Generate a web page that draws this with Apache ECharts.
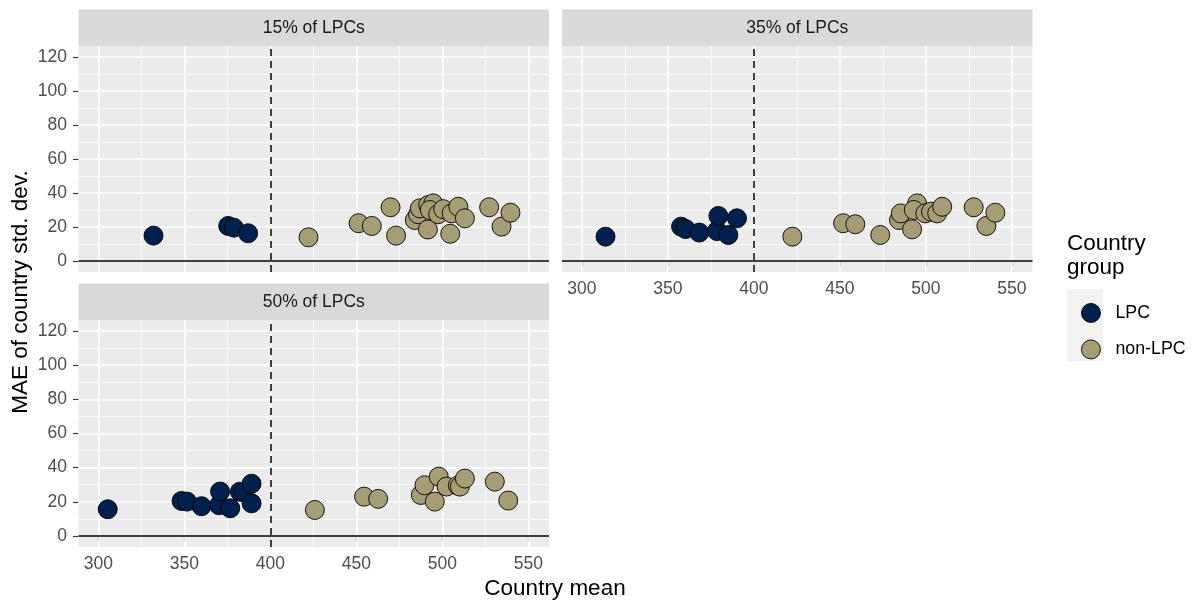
<!DOCTYPE html>
<html>
<head>
<meta charset="utf-8">
<script src="https://cdn.jsdelivr.net/npm/echarts@6/dist/echarts.min.js"></script>
<style>
html,body{margin:0;padding:0;background:#fff;}
#chart{width:1201px;height:606px;}
</style>
</head>
<body>
<div id="chart"></div>
<script>
// ---- data ----
const panelTitles = ['15% of LPCs', '35% of LPCs', '50% of LPCs'];
const groupNames = ['LPC', 'non-LPC'];
const xTicks = [300, 350, 400, 450, 500, 550];
const xMinor = [325, 375, 425, 475, 525];
const yTicks = [0, 20, 40, 60, 80, 100, 120];
const yMinor = [10, 30, 50, 70, 90, 110];
const thresholdX = 400;

const lpc15 = [[332.1,14.9],[375.5,20.6],[378.8,19.6],[387.1,16.3]];
const non15 = [[422.2,13.9],[451.3,22.2],[459.0,20.6],[469.9,31.6],[473.1,14.9],[484.0,24.1],[485.9,27.5],[486.9,31.0],[491.8,32.9],[494.7,33.9],[492.7,30.0],[491.6,18.5],[497.6,27.5],[500.5,30.5],[505.4,28.0],[509.3,31.9],[513.1,25.1],[504.6,16.0],[527.2,31.6],[534.4,20.2],[539.6,28.4]];
const lpc35 = [[313.8,14.3],[357.7,20.2],[360.3,18.8],[368.3,16.7],[378.6,17.6],[379.4,26.5],[385.2,15.3],[390.2,25.1]];
const non35 = [[422.4,14.3],[451.9,22.2],[459.0,21.6],[473.5,15.3],[484.4,24.1],[485.4,28.0],[494.9,33.9],[493.0,30.0],[492.0,18.6],[499.7,28.0],[503.0,29.0],[506.6,28.0],[509.5,31.9],[527.8,31.6],[535.2,20.6],[540.4,28.4]];
const lpc50 = [[305.5,15.6],[348.4,20.5],[351.6,20.1],[360.0,17.4],[370.2,18.0],[370.8,26.0],[376.7,16.2],[382.3,25.9],[384.7,25.5],[389.1,19.1],[389.1,30.6]];
const non50 = [[425.9,15.2],[454.5,23.0],[462.7,21.7],[487.5,24.0],[489.6,29.7],[495.6,20.1],[497.9,34.7],[502.4,28.9],[509.0,29.5],[510.2,28.9],[513.1,33.6],[530.5,31.8],[538.3,20.7]];

const panelData = [[lpc15, non15], [lpc35, non35], [lpc50, non50]];

// ---- layout / style ----
const FONT = '"Liberation Sans", Arial, sans-serif';
const colors = ['#00204D', '#A69D75'];
const grids = [
  {left: 78.5, top: 46, width: 470.5, height: 226},
  {left: 562, top: 46, width: 470.5, height: 226},
  {left: 78.5, top: 320, width: 470.5, height: 227}
];
const showX = [false, true, true];
const showY = [true, false, true];

const option = {
  animation: false,
  backgroundColor: '#fff',
  grid: grids.map(g => Object.assign({show: true, backgroundColor: '#EBEBEB', borderWidth: 0}, g)),
  xAxis: grids.map((g, i) => ({
    type: 'value', gridIndex: i, min: 288.5, max: 562,
    axisLine: {show: false},
    axisTick: {show: showX[i], customValues: xTicks, length: 5.5, lineStyle: {color: '#333333', width: 1.1}},
    axisLabel: {show: showX[i], customValues: xTicks, color: '#4D4D4D', fontSize: 17.5, fontFamily: FONT, margin: 8},
    splitLine: {show: false}
  })),
  yAxis: grids.map((g, i) => ({
    type: 'value', gridIndex: i, min: -6.5, max: 126.5,
    axisLine: {show: false},
    axisTick: {show: showY[i], customValues: yTicks, length: 5.5, lineStyle: {color: '#333333', width: 1.1}},
    axisLabel: {show: showY[i], customValues: yTicks, color: '#4D4D4D', fontSize: 17.5, fontFamily: FONT, margin: 11.5},
    splitLine: {show: false}
  })),
  legend: {
    orient: 'vertical', left: 1076, top: 298,
    itemWidth: 19, itemHeight: 19, itemGap: 16.6,
    icon: 'circle',
    data: groupNames,
    textStyle: {fontSize: 17.8, fontFamily: FONT, color: '#000', lineHeight: 19, padding: [0, 0, 0, 10]},
    itemStyle: {borderColor: '#000', borderWidth: 0.9}
  },
  series: [],
  graphic: []
};

grids.forEach((g, i) => {
  const gridLines = [];
  xTicks.forEach(v => gridLines.push({xAxis: v, lineStyle: {color: '#FFFFFF', width: 1.6, type: 'solid'}}));
  xMinor.forEach(v => gridLines.push({xAxis: v, lineStyle: {color: '#FFFFFF', width: 0.8, type: 'solid'}}));
  yTicks.forEach(v => gridLines.push({yAxis: v, lineStyle: {color: '#FFFFFF', width: 1.6, type: 'solid'}}));
  yMinor.forEach(v => gridLines.push({yAxis: v, lineStyle: {color: '#FFFFFF', width: 0.8, type: 'solid'}}));
  option.series.push({
    type: 'scatter', xAxisIndex: i, yAxisIndex: i, data: [], silent: true, z: 1,
    markLine: {silent: true, symbol: ['none', 'none'], label: {show: false}, z: 1, animation: false, data: gridLines}
  });
  option.series.push({
    type: 'scatter', xAxisIndex: i, yAxisIndex: i, data: [], silent: true, z: 2,
    markLine: {silent: true, symbol: ['none', 'none'], label: {show: false}, z: 2, animation: false,
      data: [
        {yAxis: 0, lineStyle: {color: '#000', width: 1.6, type: 'solid'}},
        {xAxis: thresholdX, lineStyle: {color: '#000', width: 1.5, type: [7, 5]}}
      ]}
  });
  panelData[i].forEach((pts, k) => {
    option.series.push({
      type: 'scatter', name: groupNames[k], xAxisIndex: i, yAxisIndex: i, z: 3,
      data: pts, symbol: 'circle', symbolSize: 19,
      itemStyle: {color: colors[k], borderColor: '#000', borderWidth: 0.9, opacity: 1}
    });
  });
  // strip
  option.graphic.push({
    type: 'rect', shape: {x: g.left, y: g.top - 36.5, width: g.width, height: 36.5},
    style: {fill: '#D9D9D9'}, silent: true
  });
  option.graphic.push({
    type: 'text', x: g.left + g.width / 2, y: g.top - 17.5,
    style: {text: panelTitles[i], fill: '#1A1A1A', font: '17.5px ' + FONT, textAlign: 'center', textVerticalAlign: 'middle'},
    silent: true
  });
});

// axis titles
option.graphic.push({
  type: 'text', x: 555, y: 589,
  style: {text: 'Country mean', fill: '#000', font: '22.5px ' + FONT, textAlign: 'center', textVerticalAlign: 'middle'}
});
option.graphic.push({
  type: 'text', x: 20.5, y: 292, rotation: Math.PI / 2,
  style: {text: 'MAE of country std. dev.', fill: '#000', font: '22.5px ' + FONT, textAlign: 'center', textVerticalAlign: 'middle'}
});
// legend title and key background
option.graphic.push({
  type: 'text', x: 1067, y: 244,
  style: {text: 'Country', fill: '#000', font: '22.5px ' + FONT, textAlign: 'left', textVerticalAlign: 'middle'}
});
option.graphic.push({
  type: 'text', x: 1067, y: 268,
  style: {text: 'group', fill: '#000', font: '22.5px ' + FONT, textAlign: 'left', textVerticalAlign: 'middle'}
});
option.graphic.push({
  type: 'rect', shape: {x: 1067, y: 289, width: 36, height: 72}, style: {fill: '#F2F2F2'}, z: -1, silent: true
});

const chart = echarts.init(document.getElementById('chart'), null, {renderer: 'canvas'});
chart.setOption(option);
</script>
</body>
</html>
